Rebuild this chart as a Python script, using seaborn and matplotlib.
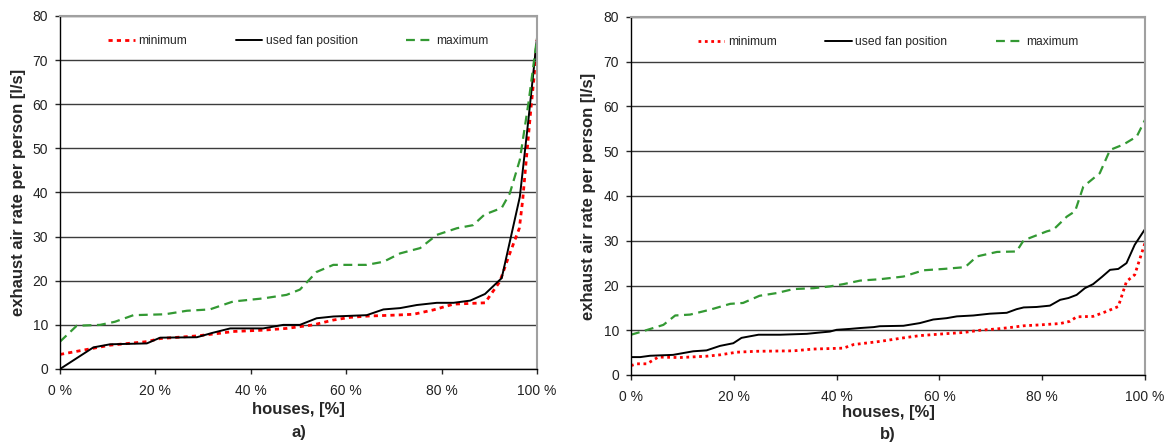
import matplotlib
matplotlib.use("Agg")
import matplotlib.pyplot as plt
import seaborn as sns
from matplotlib.ticker import FuncFormatter, MultipleLocator

# panel a) values (x in % of houses, y in l/s per person)
a_min_x = [0, 7, 10.5, 18.2, 21, 28.7, 33.5, 36.3, 42.6, 47.5, 50.3, 53.1, 57.3, 60.8, 64.6,
           69.9, 74.1, 78.3, 82.5, 89.1, 92.2, 94.3, 96.3, 97, 97.8, 98.7, 99.4, 100]
a_min_y = [3.3, 4.7, 5.4, 6.2, 6.9, 7.5, 8.1, 8.5, 8.8, 9.2, 9.6, 10.0, 11.1, 11.7, 12.0,
           12.2, 12.4, 13.4, 14.7, 15.0, 19.8, 26.2, 31.9, 38.3, 48.0, 58.7, 66.3, 74.6]
a_fan_x = [0, 7, 10.5, 18.2, 21, 28.7, 32, 35.7, 42.6, 46.8, 50.3, 53.8, 57.3, 64.3, 67.8,
           71.3, 74.8, 79, 82.5, 86, 89.1, 92.6, 96.4, 98.2, 100]
a_fan_y = [0, 4.9, 5.6, 5.8, 7.1, 7.2, 8.2, 9.2, 9.2, 10.0, 10.0, 11.5, 11.9, 12.2, 13.5,
           13.8, 14.5, 15.0, 15.0, 15.5, 17.0, 20.6, 39.0, 56.5, 75.0]
a_max_x = [0, 3.5, 8.4, 11.5, 15.4, 22, 26.6, 31.4, 36.3, 42.6, 47.5, 50.3, 53.8, 57.3, 64.3,
           67.8, 71.3, 75.5, 79, 83.2, 86.6, 89, 92.6, 94.3, 96.4, 98.2, 100]
a_max_y = [6.2, 9.8, 10.0, 10.7, 12.2, 12.4, 13.2, 13.5, 15.3, 16.0, 16.8, 18.0, 22.0, 23.6, 23.6,
           24.3, 26.2, 27.4, 30.4, 31.9, 32.6, 35.0, 36.5, 39.8, 47.4, 60.2, 75.0]

# panel b)
b_min_x = [0, 1.1, 3.1, 5.3, 9.5, 14.7, 17.3, 20.6, 24.4, 31.6, 35.5, 41.3, 43.3, 48.4, 53,
           56.2, 60.8, 64.7, 67.9, 71.2, 73.7, 76.4, 79.6, 83.5, 85.4, 86.7, 89.9, 92.5, 94.8,
           96.4, 98, 100]
b_min_y = [2.1, 2.5, 2.5, 4.0, 3.9, 4.2, 4.5, 5.1, 5.3, 5.4, 5.8, 6.0, 6.8, 7.5, 8.3,
           8.8, 9.2, 9.5, 10.0, 10.3, 10.6, 11.0, 11.2, 11.5, 12.0, 13.0, 13.1, 14.2, 15.3,
           20.9, 22.4, 29.5]
b_fan_x = [0, 1.8, 3.7, 8.2, 12.1, 14.7, 17.3, 19.9, 21.5, 24.8, 29, 34.2, 36.8, 38.7, 40,
           42.6, 44.6, 47.2, 48.4, 53, 56.2, 58.8, 61.4, 63.4, 66.6, 69.8, 73.1, 75, 76.4,
           78.9, 81.5, 83.5, 85.1, 86.7, 88.3, 89.9, 91.6, 93.2, 94.8, 96.4, 98, 100]
b_fan_y = [4.0, 4.0, 4.3, 4.5, 5.3, 5.5, 6.5, 7.1, 8.3, 9.0, 9.0, 9.2, 9.5, 9.7, 10.1,
           10.3, 10.5, 10.7, 10.9, 11.0, 11.6, 12.4, 12.7, 13.1, 13.3, 13.7, 13.9, 14.7, 15.1,
           15.2, 15.5, 16.8, 17.2, 17.9, 19.4, 20.3, 21.9, 23.5, 23.7, 25.0, 29.1, 32.6]
b_max_x = [0, 2.1, 6.3, 8.6, 11.5, 15.4, 19.3, 21.8, 25, 28.3, 31.6, 35.5, 38.7, 41.3, 44.6,
           48.4, 53, 56.9, 60.8, 65, 67.3, 71.2, 75, 76.4, 80.9, 82.2, 84.8, 86.4, 88, 91.2,
           93.2, 95.8, 98.4, 100]
b_max_y = [9.0, 9.7, 11.2, 13.3, 13.5, 14.6, 15.9, 16.1, 17.7, 18.3, 19.2, 19.4, 19.8, 20.3, 21.1,
           21.4, 22.0, 23.4, 23.7, 24.1, 26.5, 27.5, 27.6, 30.1, 32.1, 32.5, 35.4, 36.6, 42.1, 45.1,
           50.3, 51.5, 53.3, 57.0]

labels = ["minimum", "used fan position", "maximum"]
x_ticks = [0, 20, 40, 60, 80, 100]

sns.set_style("ticks")
plt.rcParams["font.family"] = ["Liberation Sans", "DejaVu Sans"]


def draw_panel(ax, data, min_style, tag, xlab_y, tag_y, ylab_x):
    (mx, my), (fx, fy), (hx, hy) = data
    sns.lineplot(x=mx, y=my, ax=ax, color="#ff0000", lw=2.0, linestyle=min_style,
                 label=labels[0], sort=False)
    sns.lineplot(x=fx, y=fy, ax=ax, color="black", lw=1.4, label=labels[1], sort=False)
    sns.lineplot(x=hx, y=hy, ax=ax, color="#339933", lw=1.6, linestyle=(0, (4, 2.5)),
                 label=labels[2], sort=False)

    ax.set_xlim(0, 100)
    ax.set_ylim(0, 80)
    ax.set_xticks(x_ticks)
    ax.xaxis.set_major_formatter(FuncFormatter(lambda v, p: f"{v:.0f} %"))
    ax.yaxis.set_major_locator(MultipleLocator(10))
    ax.yaxis.grid(True, color="#3c3c3c", lw=1)
    ax.set_axisbelow(True)
    ax.tick_params(axis="both", labelsize=10, labelcolor="#222222", length=3.5, width=1)
    ax.tick_params(axis="x", pad=7.5)
    ax.tick_params(axis="y", pad=5)

    for s in ["top", "right"]:
        ax.spines[s].set_color("#a0a0a0")
        ax.spines[s].set_linewidth(1.5)
    for s in ["left", "bottom"]:
        ax.spines[s].set_color("black")
        ax.spines[s].set_linewidth(1)

    ax.set_xlabel("houses, [%]", fontsize=12, fontweight="bold")
    ax.xaxis.label.set_va("center")
    ax.xaxis.set_label_coords(0.5, xlab_y)
    ax.set_ylabel("exhaust air rate per person [l/s]", fontsize=12, fontweight="bold")
    ax.yaxis.label.set_va("center")
    ax.yaxis.set_label_coords(ylab_x, 0.5)
    ax.text(0.5, tag_y, tag, transform=ax.transAxes, ha="center", va="center",
            fontsize=12, fontweight="bold")

    ax.legend(loc="center", bbox_to_anchor=(0.5, 0.929), ncol=3, frameon=False,
              fontsize=8.7, handlelength=2.2, handletextpad=0.3, columnspacing=4.0)


fig = plt.figure(figsize=(11.69, 4.46), dpi=100)
ax_a = fig.add_axes([60 / 1169, 1 - 369 / 446, 477 / 1169, 353 / 446])
ax_b = fig.add_axes([631 / 1169, 1 - 375 / 446, 514 / 1169, 358 / 446])

draw_panel(ax_a, [(a_min_x, a_min_y), (a_fan_x, a_fan_y), (a_max_x, a_max_y)],
           (0, (1.5, 1.5)), "a)", -0.116, -0.181, -0.086)
draw_panel(ax_b, [(b_min_x, b_min_y), (b_fan_x, b_fan_y), (b_max_x, b_max_y)],
           (0, (1, 1.3)), "b)", -0.106, -0.165, -0.082)

fig.savefig("out.png", dpi=100)
